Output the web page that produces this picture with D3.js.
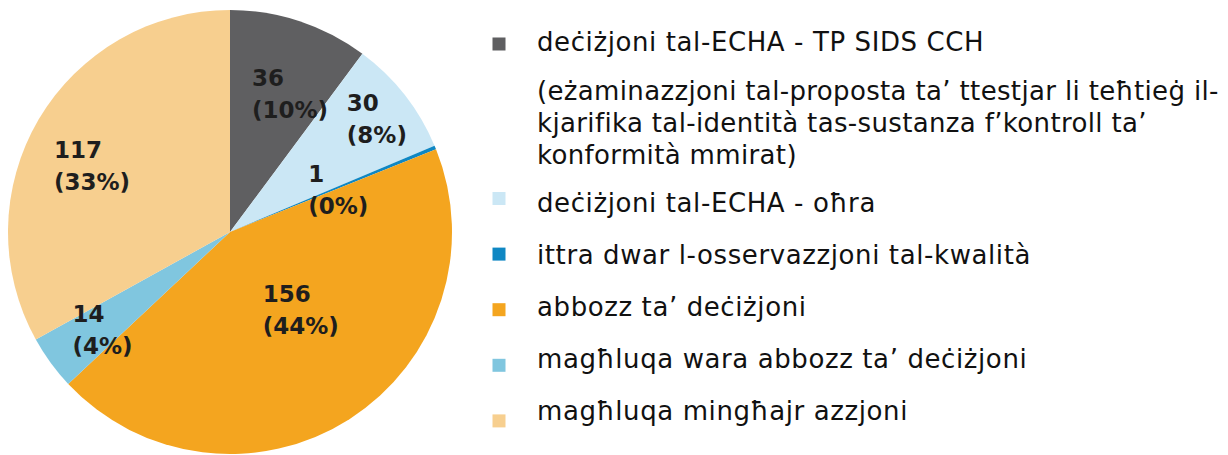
<!DOCTYPE html>
<html>
<head>
<meta charset="utf-8">
<script src="https://cdn.jsdelivr.net/npm/d3@7"></script>
<style>
  body { margin: 0; background: #fff; }
  svg { display: block; }
  text { font-family: "DejaVu Sans", Verdana, sans-serif; }
</style>
</head>
<body>
<div id="chart"></div>
<script>
// slices, clockwise from 12 o'clock
const categories = [
  "deċiżjoni tal-ECHA - TP SIDS CCH",
  "deċiżjoni tal-ECHA - oħra",
  "ittra dwar l-osservazzjoni tal-kwalità",
  "abbozz ta’ deċiżjoni",
  "magħluqa wara abbozz ta’ deċiżjoni",
  "magħluqa mingħajr azzjoni"
];
const counts = [36, 30, 1, 156, 14, 117];
const colours = ["#5f5f61", "#cbe7f5", "#0f87c3", "#f4a51f", "#80c6df", "#f7cf8f"];

// explanation under the first legend entry
const noteLines = [
  "(eżaminazzjoni tal-proposta ta’ ttestjar li teħtieġ il-",
  "kjarifika tal-identità tas-sustanza f’kontroll ta’",
  "konformità mmirat)"
];

// where each slice label sits: fraction of radius, angle nudge in degrees
const labelSpots = [[0.67, 5.5], [0.83, 1], [0.52, 2], [0.48, -9], [0.73, -2], [0.685, -5.6]];

const width = 1228, height = 455;
const cx = 230, cy = 232, radius = 222;

const svg = d3.select("#chart").append("svg")
  .attr("width", width)
  .attr("height", height);

const total = d3.sum(counts);

const pie = d3.pie().sort(null).value(d => d);
const arc = d3.arc().innerRadius(0).outerRadius(radius);

const g = svg.append("g").attr("transform", `translate(${cx},${cy})`);

const arcs = pie(counts);

g.selectAll("path")
  .data(arcs)
  .join("path")
    .attr("d", arc)
    .attr("fill", (d, i) => colours[i]);

// value + percent labels
arcs.forEach((d, i) => {
  let [rf, nudge] = labelSpots[i];
  let a = (d.startAngle + d.endAngle) / 2 + nudge * Math.PI / 180;
  let x = Math.sin(a) * radius * rf;
  let y = -Math.cos(a) * radius * rf;

  let t = g.append("text")
    .attr("font-size", 23)
    .attr("font-weight", "bold")
    .attr("fill", "#1e1e1e");
  let l1 = t.append("tspan").text(d.data);
  let l2 = t.append("tspan").text(`(${Math.round(d.data / total * 100)}%)`);

  let w = Math.max(l1.node().getComputedTextLength(), l2.node().getComputedTextLength());
  let left = x - w / 2;
  l1.attr("x", left).attr("y", y - 10);
  l2.attr("x", left).attr("y", y + 22);
});

// legend
const legend = svg.append("g");
const swatchX = 499, textX = 537;

// text rows: first entry, then its 3-line note, then the rest
const rowY = i => i === 0 ? 51 : 212 + (i - 1) * 52;
const swatchY = i => i === 0 ? 44 : 198.5 + (i - 1) * 55.6;

legend.selectAll("rect")
  .data(categories)
  .join("rect")
    .attr("x", swatchX - 6.5)
    .attr("y", (d, i) => swatchY(i) - 6.5)
    .attr("width", 13)
    .attr("height", 13)
    .attr("fill", (d, i) => colours[i]);

legend.selectAll("text.item")
  .data(categories)
  .join("text")
    .attr("class", "item")
    .attr("x", textX)
    .attr("y", (d, i) => rowY(i))
    .attr("font-size", 26)
    .attr("letter-spacing", 0.6)
    .attr("fill", "#111")
    .text(d => d);

legend.selectAll("text.note")
  .data(noteLines)
  .join("text")
    .attr("class", "note")
    .attr("x", textX)
    .attr("y", (d, i) => 100 + i * 32)
    .attr("font-size", 26)
    .attr("letter-spacing", 0.35)
    .attr("fill", "#111")
    .text(d => d);
</script>
</body>
</html>
